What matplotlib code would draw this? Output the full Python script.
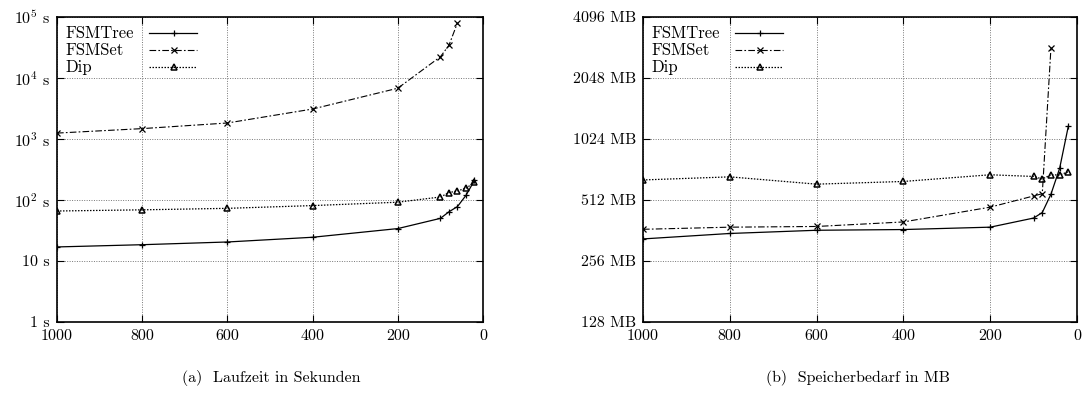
import matplotlib
matplotlib.use("Agg")
import matplotlib.pyplot as plt
from matplotlib.lines import Line2D
from matplotlib.ticker import FixedLocator, FixedFormatter, NullLocator

plt.rcParams["font.family"] = ["cmr10", "DejaVu Serif"]
plt.rcParams["mathtext.fontset"] = "cm"
plt.rcParams["axes.formatter.use_mathtext"] = True

# Minimum support (x axis) for each measurement
x_set = [1000, 800, 600, 400, 200, 100, 80, 60]
x_all = [1000, 800, 600, 400, 200, 100, 80, 60, 40, 20]

# Runtime in seconds
time_tree = [17, 18.5, 20.5, 24.5, 34, 50, 64, 78, 119, 210]
time_set = [1250, 1480, 1830, 3100, 6800, 22300, 34300, 80000]
time_dip = [66, 69, 73, 81, 92, 112, 132, 141, 156, 194]

# Memory in MB
mem_tree = [329, 350, 363, 366, 376, 417, 444, 547, 734, 1184]
mem_set = [367, 376, 379, 399, 472, 536, 550, 2890]
mem_dip = [643, 666, 613, 632, 682, 669, 650, 682, 680, 706]

x_ticks = [1000, 800, 600, 400, 200, 0]
time_ticks = [1, 10, 100, 1000, 10000, 100000]
time_labels = ["1 s", "10 s", r"$10^2$ s", r"$10^3$ s", r"$10^4$ s", r"$10^5$ s"]
mem_ticks = [128, 256, 512, 1024, 2048, 4096]
mem_labels = ["128 MB", "256 MB", "512 MB", "1024 MB", "2048 MB", "4096 MB"]

series_names = ["FSMTree", "FSMSet", "Dip"]

W, H = 1086, 399
fig = plt.figure(figsize=(W / 100, H / 100), dpi=100)

ax1 = fig.add_axes([57 / W, 1 - 322 / H, (483 - 57) / W, (322 - 17) / H])
ax2 = fig.add_axes([643 / W, 1 - 322 / H, (1077 - 643) / W, (322 - 17) / H])

styles = [
    dict(color="black", linestyle="-", marker="+", markersize=5, linewidth=0.9, markeredgewidth=0.9),
    dict(color="black", linestyle=(0, (6, 2, 1.5, 2)), marker="x", markersize=4, linewidth=0.8,
         markeredgewidth=0.9),
    dict(color="black", linestyle=(0, (1.2, 1.2)), marker="^", markersize=4.5, linewidth=0.9,
         markerfacecolor="none", markeredgewidth=1.1),
]


def key(ax):
    # gnuplot-style key: names left-justified, line samples in a column to the right
    axw = ax.get_position().width * W
    axh = ax.get_position().height * H
    for i, (name, st) in enumerate(zip(series_names, styles)):
        y = 1 - (16 + 17 * i) / axh
        ax.text(8 / axw, y, name, transform=ax.transAxes, ha="left", va="center", fontsize=12)
        ax.add_line(Line2D([92 / axw, 140 / axw], [y, y], transform=ax.transAxes,
                           color=st["color"], linestyle=st["linestyle"], linewidth=st["linewidth"]))
        mk = {k: v for k, v in st.items() if k.startswith("marker")}
        ax.add_line(Line2D([117 / axw], [y], transform=ax.transAxes, color="black",
                           linestyle="none", **mk))


def draw(ax, ys_tree, ys_set, ys_dip):
    ax.plot(x_all, ys_tree, **styles[0])
    ax.plot(x_set, ys_set, **styles[1])
    ax.plot(x_all, ys_dip, **styles[2])
    ax.set_xlim(1000, 0)
    ax.xaxis.set_major_locator(FixedLocator(x_ticks))
    ax.xaxis.set_major_formatter(FixedFormatter([str(t) for t in x_ticks]))
    ax.grid(True, which="major", color="#777777", linestyle=(0, (1, 1.5)), linewidth=0.7)
    ax.tick_params(which="both", direction="in", top=True, right=True, length=5, width=0.8,
                   labelsize=11.5, pad=5)
    for s in ax.spines.values():
        s.set_linewidth(1.2)
    key(ax)


draw(ax1, time_tree, time_set, time_dip)
ax1.set_yscale("log")
ax1.set_ylim(1, 100000)
ax1.yaxis.set_major_locator(FixedLocator(time_ticks))
ax1.yaxis.set_major_formatter(FixedFormatter(time_labels))
ax1.yaxis.set_minor_locator(NullLocator())

draw(ax2, mem_tree, mem_set, mem_dip)
ax2.set_yscale("log", base=2)
ax2.set_ylim(128, 4096)
ax2.yaxis.set_major_locator(FixedLocator(mem_ticks))
ax2.yaxis.set_major_formatter(FixedFormatter(mem_labels))
ax2.yaxis.set_minor_locator(NullLocator())

fig.text(271 / W, 1 - 378 / H, "(a)  Laufzeit in Sekunden", ha="center", va="center", fontsize=11.5)
fig.text(858 / W, 1 - 378 / H, "(b)  Speicherbedarf in MB", ha="center", va="center", fontsize=11.5)

fig.savefig("out.png", dpi=100)
